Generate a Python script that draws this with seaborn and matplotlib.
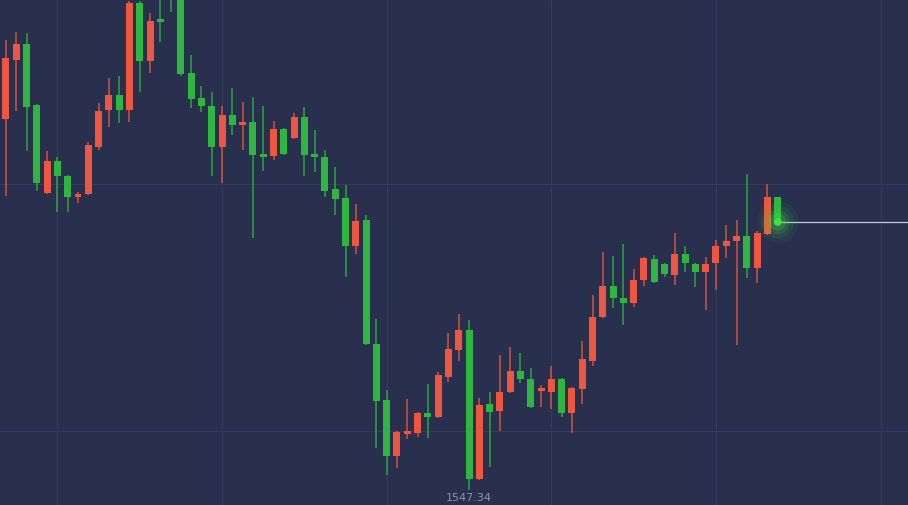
import numpy as np
import pandas as pd
import seaborn as sns
from matplotlib import pyplot as plt

# OHLC (first candle on the left)
opens = [1584.44, 1590.34, 1591.94, 1585.84, 1577.04, 1580.24, 1578.74, 1576.64, 1576.94, 1581.64,
         1585.34, 1586.84, 1585.34, 1596.04, 1590.24, 1594.34, 1602.34, 1598.34, 1589.04, 1586.54,
         1585.74, 1581.64, 1584.84, 1583.84, 1584.14, 1580.94, 1580.74, 1583.44, 1582.54, 1584.64,
         1580.94, 1580.64, 1577.44, 1576.54, 1571.74, 1574.34, 1561.94, 1556.34, 1550.74, 1552.94,
         1553.04, 1555.04, 1554.64, 1558.64, 1561.34, 1563.34, 1548.44, 1555.94, 1555.24, 1557.14,
         1559.24, 1558.44, 1557.24, 1557.14, 1558.44, 1555.04, 1557.44, 1560.24, 1564.64, 1567.74,
         1566.54, 1566.04, 1568.34, 1570.44, 1569.94, 1568.84, 1570.94, 1569.94, 1569.14, 1570.04,
         1571.74, 1572.24, 1572.74, 1569.54, 1572.94, 1576.64]
highs = [1592.34, 1593.14, 1593.04, 1585.94, 1581.24, 1580.64, 1578.84, 1577.14, 1582.14, 1586.04,
         1588.54, 1588.74, 1596.24, 1596.24, 1595.04, 1596.64, 1603.34, 1599.34, 1590.84, 1587.74,
         1587.14, 1585.74, 1587.54, 1586.14, 1586.64, 1585.74, 1584.24, 1583.54, 1585.04, 1585.64,
         1583.34, 1581.34, 1579.64, 1577.84, 1575.94, 1574.84, 1564.44, 1557.34, 1553.24, 1556.44,
         1555.14, 1557.94, 1559.14, 1563.04, 1564.94, 1564.34, 1556.54, 1557.14, 1560.84, 1561.64,
         1561.04, 1559.54, 1557.84, 1559.74, 1558.54, 1557.64, 1562.24, 1566.84, 1571.14, 1570.74,
         1571.94, 1569.44, 1570.64, 1570.84, 1570.04, 1573.04, 1571.74, 1570.04, 1570.64, 1572.34,
         1573.84, 1574.34, 1578.94, 1573.24, 1577.94, 1576.64]
lows = [1576.74, 1585.24, 1581.24, 1577.24, 1576.94, 1575.14, 1575.14, 1576.04, 1576.84, 1581.34,
        1583.64, 1584.04, 1584.14, 1587.14, 1589.04, 1592.14, 1595.14, 1588.74, 1585.54, 1585.14,
        1578.74, 1578.04, 1582.84, 1581.34, 1572.54, 1579.24, 1580.34, 1580.84, 1582.44, 1578.74,
        1579.14, 1576.64, 1574.84, 1568.64, 1570.94, 1561.84, 1551.54, 1548.84, 1549.54, 1552.44,
        1552.64, 1552.54, 1554.54, 1558.14, 1560.24, 1547.34, 1548.34, 1549.64, 1553.24, 1557.04,
        1558.04, 1555.54, 1555.64, 1555.44, 1554.64, 1553.04, 1555.94, 1559.74, 1564.54, 1565.54,
        1563.84, 1565.64, 1567.74, 1568.04, 1568.64, 1567.84, 1569.14, 1567.64, 1565.34, 1567.34,
        1570.54, 1561.84, 1568.54, 1568.04, 1572.84, 1574.14]
closes = [1590.54, 1591.94, 1585.64, 1578.04, 1580.24, 1578.74, 1576.64, 1576.94, 1581.84, 1585.24,
          1586.84, 1585.34, 1596.04, 1590.24, 1594.24, 1594.14, 1598.84, 1588.94, 1586.44, 1585.74,
          1581.64, 1584.84, 1583.84, 1584.14, 1580.84, 1580.64, 1583.44, 1580.94, 1584.64, 1580.84,
          1580.64, 1577.24, 1576.44, 1571.74, 1574.24, 1561.94, 1556.24, 1550.74, 1553.14, 1553.14,
          1555.04, 1554.64, 1558.84, 1561.44, 1563.34, 1548.44, 1555.84, 1555.14, 1557.14, 1559.24,
          1558.44, 1555.64, 1557.44, 1558.44, 1555.04, 1557.54, 1560.44, 1564.64, 1567.74, 1566.54,
          1566.04, 1568.34, 1570.54, 1568.14, 1568.94, 1570.94, 1570.04, 1569.14, 1569.94, 1571.74,
          1572.24, 1572.74, 1569.54, 1573.04, 1576.64, 1574.14]

grid_x = [5, 21, 37, 53, 69, 85]
grid_y = [1553.24, 1577.94]

BG = "#29304e"
UP = "#ee5641"     # rising candles are red here
DOWN = "#2fb640"

df = pd.DataFrame({"open": opens, "high": highs, "low": lows, "close": closes})
df["t"] = np.arange(len(df))
df["color"] = np.where(df["close"] > df["open"], UP, DOWN)

sns.set_style("dark", {"axes.facecolor": BG, "figure.facecolor": BG})

fig = plt.figure(figsize=(9.08, 5.05), dpi=100)
ax = fig.add_axes([0, 0, 1, 1])
ax.set_facecolor(BG)

for gx in grid_x:
    ax.axvline(gx, color="#353d5e", lw=0.8, zorder=0)
for gy in grid_y:
    ax.axhline(gy, color="#353d5e", lw=0.8, zorder=0)

# wicks
ax.vlines(df["t"], df["low"], df["high"], colors=df["color"], lw=1.2, alpha=0.8, zorder=2)
# bodies
body = (df["close"] - df["open"]).abs().clip(lower=0.3)
bottom = df[["open", "close"]].min(axis=1)
ax.bar(df["t"], body, bottom=bottom, width=0.68, color=df["color"],
       edgecolor="none", linewidth=0, zorder=3)

# current price line + glowing dot
last = df.iloc[-1]
ax.hlines(last["close"], last["t"], 200, colors="#c6c9d6", lw=0.9, zorder=4)
for s, a in [(900, 0.06), (550, 0.09), (300, 0.14), (150, 0.22)]:
    sns.scatterplot(x=[last["t"]], y=[last["close"]], s=s, color="#3ddc3d", alpha=a,
                    edgecolor="none", ax=ax, zorder=5, legend=False)
sns.scatterplot(x=[last["t"]], y=[last["close"]], s=30, color="#46e046",
                edgecolor="none", ax=ax, zorder=6, legend=False)

# lowest price label
imin = df["low"].idxmin()
ax.annotate(f"{df['low'][imin]:.2f}", (df["t"][imin], df["low"][imin]),
            xytext=(0, -2.5), textcoords="offset points", ha="center", va="top",
            fontsize=8, color="#8c92aa")

ax.set_xlim(-0.58, 87.66)
ax.set_ylim(1545.84, 1596.34)
ax.set_xticks([])
ax.set_yticks([])
for sp in ax.spines.values():
    sp.set_visible(False)

fig.savefig("out.png", dpi=100, facecolor=BG)
